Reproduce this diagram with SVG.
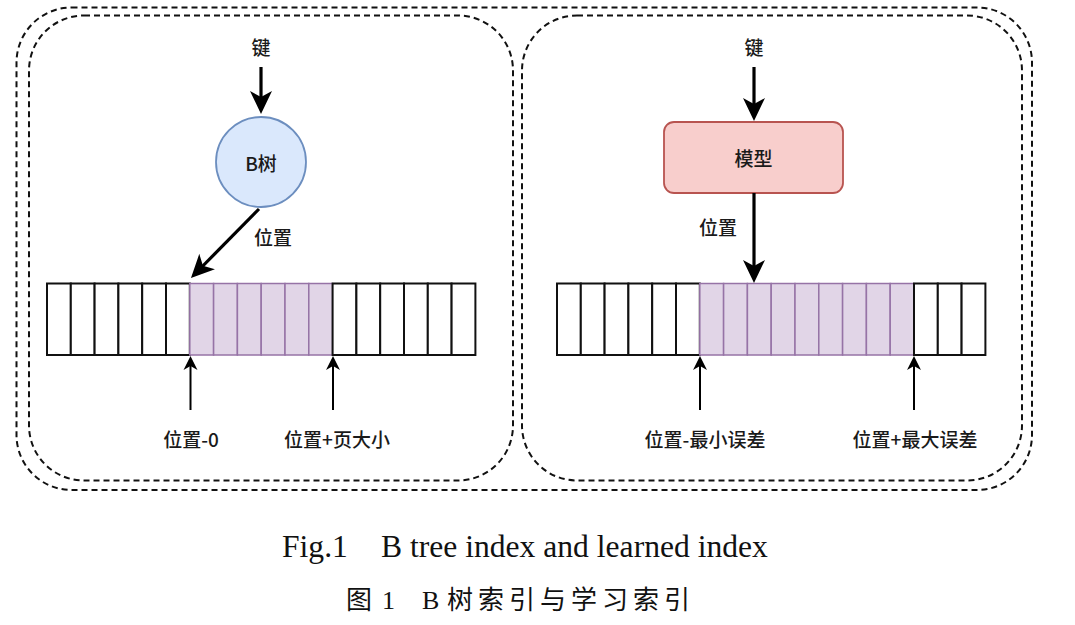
<svg xmlns="http://www.w3.org/2000/svg" width="1075" height="625" viewBox="0 0 1075 625">
<style>
  .lbl { font-family: "Noto Sans CJK SC", "Noto Sans", sans-serif; font-size: 19px; font-weight: 500; fill: #1a1a1a; text-anchor: middle; dominant-baseline: central; }
  .dash { fill: none; stroke: #111; stroke-width: 2; stroke-dasharray: 6 4; }
  .cell { fill: #ffffff; stroke: #111; stroke-width: 2; }
  .hcell { fill: #e1d5e7; stroke: #9673a6; stroke-width: 1.5; }
  .thick { fill: none; stroke: #000; stroke-width: 3.2; marker-end: url(#bigArrow); }
  .thin { fill: none; stroke: #000; stroke-width: 2; marker-end: url(#smallArrow); }
  .cap { font-family: "Liberation Serif", "Noto Sans CJK SC", serif; fill: #111; }
</style>
<defs>
  <marker id="bigArrow" viewBox="-10 -12 26 24" refX="0" refY="0" markerWidth="26" markerHeight="24" markerUnits="userSpaceOnUse" orient="auto">
    <path d="M14,0 L-9,-11 L-3,0 L-9,11 Z" fill="#000"/>
  </marker>
  <marker id="smallArrow" viewBox="-6 -8 16 16" refX="0" refY="0" markerWidth="16" markerHeight="16" markerUnits="userSpaceOnUse" orient="auto">
    <path d="M9,0 L-5,-7 L-1,0 L-5,7 Z" fill="#000"/>
  </marker>
</defs>
<rect width="1075" height="625" fill="#ffffff"/>

<g id="frames">
  <rect id="outer-frame" class="dash" x="16.5" y="7.5" width="1015.5" height="482.5" rx="55" ry="55"/>
  <rect id="left-panel" class="dash" x="29" y="15.5" width="484" height="465" rx="55" ry="55"/>
  <rect id="right-panel" class="dash" x="522" y="15.5" width="500" height="465" rx="55" ry="55"/>
</g>

<g id="left-array">
  <rect class="cell" x="47" y="283.5" width="23.8" height="71.5"/>
  <rect class="cell" x="70.8" y="283.5" width="23.8" height="71.5"/>
  <rect class="cell" x="94.6" y="283.5" width="23.8" height="71.5"/>
  <rect class="cell" x="118.4" y="283.5" width="23.8" height="71.5"/>
  <rect class="cell" x="142.2" y="283.5" width="23.8" height="71.5"/>
  <rect class="cell" x="166" y="283.5" width="23.8" height="71.5"/>
  <rect class="hcell" x="189.8" y="283.5" width="23.8" height="71.5"/>
  <rect class="hcell" x="213.6" y="283.5" width="23.8" height="71.5"/>
  <rect class="hcell" x="237.4" y="283.5" width="23.8" height="71.5"/>
  <rect class="hcell" x="261.2" y="283.5" width="23.8" height="71.5"/>
  <rect class="hcell" x="285" y="283.5" width="23.8" height="71.5"/>
  <rect class="hcell" x="308.8" y="283.5" width="23.8" height="71.5"/>
  <rect class="cell" x="332.6" y="283.5" width="23.8" height="71.5"/>
  <rect class="cell" x="356.4" y="283.5" width="23.8" height="71.5"/>
  <rect class="cell" x="380.2" y="283.5" width="23.8" height="71.5"/>
  <rect class="cell" x="404" y="283.5" width="23.8" height="71.5"/>
  <rect class="cell" x="427.8" y="283.5" width="23.8" height="71.5"/>
  <rect class="cell" x="451.6" y="283.5" width="23.8" height="71.5"/>
</g>

<g id="right-array">
  <rect class="cell" x="557" y="283.5" width="23.8" height="71.5"/>
  <rect class="cell" x="580.8" y="283.5" width="23.8" height="71.5"/>
  <rect class="cell" x="604.6" y="283.5" width="23.8" height="71.5"/>
  <rect class="cell" x="628.4" y="283.5" width="23.8" height="71.5"/>
  <rect class="cell" x="652.2" y="283.5" width="23.8" height="71.5"/>
  <rect class="cell" x="676" y="283.5" width="23.8" height="71.5"/>
  <rect class="hcell" x="699.8" y="283.5" width="23.8" height="71.5"/>
  <rect class="hcell" x="723.6" y="283.5" width="23.8" height="71.5"/>
  <rect class="hcell" x="747.4" y="283.5" width="23.8" height="71.5"/>
  <rect class="hcell" x="771.2" y="283.5" width="23.8" height="71.5"/>
  <rect class="hcell" x="795" y="283.5" width="23.8" height="71.5"/>
  <rect class="hcell" x="818.8" y="283.5" width="23.8" height="71.5"/>
  <rect class="hcell" x="842.6" y="283.5" width="23.8" height="71.5"/>
  <rect class="hcell" x="866.4" y="283.5" width="23.8" height="71.5"/>
  <rect class="hcell" x="890.2" y="283.5" width="23.8" height="71.5"/>
  <rect class="cell" x="914" y="283.5" width="23.8" height="71.5"/>
  <rect class="cell" x="937.8" y="283.5" width="23.8" height="71.5"/>
  <rect class="cell" x="961.6" y="283.5" width="23.8" height="71.5"/>
</g>

<g id="btree-node">
  <circle cx="261" cy="162" r="45" fill="#dae8fc" stroke="#6c8ebf" stroke-width="1.8"/>
  <text class="lbl" x="261" y="162">B树</text>
</g>

<g id="model-node">
  <rect x="664" y="122" width="179" height="71" rx="10" ry="10" fill="#f8cecc" stroke="#b85450" stroke-width="1.8"/>
  <text class="lbl" x="753.5" y="157.5">模型</text>
</g>

<g id="connectors">
  <line class="thick" x1="261" y1="67" x2="261" y2="100"/>
  <line class="thick" x1="259" y1="209" x2="200.8" y2="268"/>
  <line class="thick" x1="754" y1="67" x2="754" y2="107"/>
  <line class="thick" x1="754" y1="193" x2="754" y2="269"/>
  <line class="thin" x1="190.5" y1="410" x2="190.5" y2="365"/>
  <line class="thin" x1="333" y1="410" x2="333" y2="365"/>
  <line class="thin" x1="700" y1="410" x2="700" y2="365"/>
  <line class="thin" x1="914" y1="410" x2="914" y2="365"/>
</g>

<g id="labels">
  <text class="lbl" x="261" y="46">键</text>
  <text class="lbl" x="754" y="46">键</text>
  <text class="lbl" x="273" y="236">位置</text>
  <text class="lbl" x="718" y="226">位置</text>
  <text class="lbl" x="191" y="438">位置-0</text>
  <text class="lbl" x="337" y="438">位置+页大小</text>
  <text class="lbl" x="705" y="438">位置-最小误差</text>
  <text class="lbl" x="915" y="438">位置+最大误差</text>
</g>

<g id="caption">
  <text class="cap" font-size="31.6" y="557"><tspan x="282">Fig.1</tspan><tspan x="381">B tree index and learned index</tspan></text>
  <text class="cap" font-size="26" y="609"><tspan x="346">图</tspan><tspan x="382">1</tspan><tspan x="422">B</tspan><tspan x="447" letter-spacing="5">树索引与学习索引</tspan></text>
</g>
</svg>
